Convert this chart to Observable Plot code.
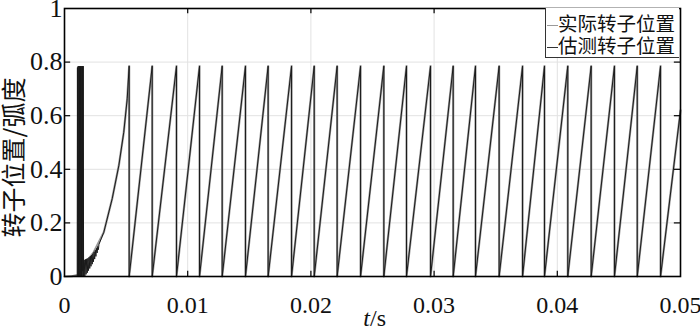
<!DOCTYPE html>
<html>
<head>
<meta charset="utf-8">
<script src="https://cdn.jsdelivr.net/npm/d3@7"></script>
<script src="https://cdn.jsdelivr.net/npm/@observablehq/plot@0.6"></script>
<style>
  body { margin: 0; background: #fff; }
  #wrap { position: relative; width: 700px; height: 329px; overflow: hidden; }
  #legend {
    position: absolute; left: 545px; top: 8px; width: 134px; height: 50px;
    border-left: 1px solid #333; border-bottom: 1px solid #333; box-sizing: border-box;
    background: #fff; white-space: nowrap; clip-path: inset(-12px 0 -12px -12px);
    font-family: "Noto Sans CJK SC", sans-serif; font-size: 19.5px; line-height: 22px;
    color: #111; padding-top: 4px;
  }
  #legend .sw { display: inline-block; width: 11px; height: 0; vertical-align: middle; margin-left: 1px; }
</style>
</head>
<body>
<div id="wrap">
  <div id="chart"></div>
  <div id="legend">
    <div><span class="sw" style="border-top:1px solid #9a9a9a"></span>实际转子位置</div>
    <div><span class="sw" style="border-top:1px solid #333"></span>估测转子位置</div>
  </div>
</div>
<script>
// ---- data ----
const seriesNames = ["实际转子位置", "估测转子位置"];
const xTicks = [0, 0.01, 0.02, 0.03, 0.04, 0.05];
const xTickLabels = ["0", "0.01", "0.02", "0.03", "0.04", "0.05"];
const yTicks = [0, 0.2, 0.4, 0.6, 0.8, 1];
const yTickLabels = ["0", "0.2", "0.4", "0.6", "0.8", "1"];
const peakValue = 0.785;
// times (s) at which the sawtooth resets from peak to 0
const resetTimes = [0.00525, 0.00712, 0.00909, 0.01096, 0.0128, 0.01469, 0.01653, 0.01843,
  0.02027, 0.02213, 0.02403, 0.02592, 0.02776, 0.02971, 0.03155, 0.03336, 0.03528, 0.03718,
  0.03896, 0.04085, 0.04275, 0.04464, 0.04649, 0.04838];
const endTime = 0.05, endValue = 0.62;
// start-up curve (shared by both series)
const startCurveT = [0.00319, 0.00387, 0.00441, 0.00481, 0.00509];
const startCurveV = [0.165, 0.29, 0.414, 0.538, 0.663];
// actual position near t = 0
const actualStartT = [0, 0.0006, 0.0011, 0.00157, 0.00238];
const actualStartV = [0, 0.001, 0.006, 0.041, 0.091];
// estimated position near t = 0 (oscillation band and wedge)
const estStartT = [0, 0.0010, 0.00103, 0.00105, 0.00108, 0.00111, 0.00114, 0.00117, 0.0012, 0.00123,
  0.00126, 0.00129, 0.00132, 0.00135, 0.00138, 0.00141, 0.00144, 0.00147, 0.0015, 0.00152,
  0.00155, 0.0016, 0.00165, 0.0017, 0.00175, 0.0018, 0.00185, 0.0019, 0.00195, 0.002,
  0.00205, 0.0021, 0.00215, 0.0022, 0.00225, 0.0023, 0.00235, 0.0024, 0.00245, 0.0025,
  0.00255, 0.0026, 0.00265, 0.0027, 0.00275, 0.0028];
const estStartV = [0, 0.002, 0.0, 0.78, 0.0, 0.785, 0.0, 0.785, 0.0, 0.785,
  0.0, 0.785, 0.0, 0.785, 0.0, 0.785, 0.0, 0.785, 0.02, 0.785,
  0.0, 0.062, 0.002, 0.064, 0.008, 0.066, 0.014, 0.068, 0.022, 0.072,
  0.03, 0.076, 0.038, 0.08, 0.046, 0.085, 0.055, 0.092, 0.065, 0.098,
  0.075, 0.105, 0.088, 0.112, 0.1, 0.12];

// ---- build series ----
function sawtooth() {
  const pts = [];
  startCurveT.forEach((t, i) => pts.push({t, v: startCurveV[i]}));
  resetTimes.forEach(t => { pts.push({t, v: peakValue}); pts.push({t, v: 0}); });
  pts.push({t: endTime, v: endValue});
  return pts;
}
const actual = actualStartT.map((t, i) => ({t, v: actualStartV[i]})).concat(sawtooth());
const estimated = estStartT.map((t, i) => ({t, v: estStartV[i]})).concat(sawtooth());

const xInner = xTicks.slice(1, -1), yInner = yTicks.slice(1, -1);

const chart = Plot.plot({
  width: 700, height: 329,
  marginLeft: 64, marginRight: 20, marginTop: 8, marginBottom: 53,
  style: {background: "#fff", color: "#111"},
  x: {domain: [0, 0.05]},
  y: {domain: [0, 1]},
  marks: [
    Plot.gridX(xInner, {stroke: "#e2e2e2", strokeOpacity: 1, strokeWidth: 1}),
    Plot.gridY(yInner, {stroke: "#e2e2e2", strokeOpacity: 1, strokeWidth: 1}),
    Plot.line(actual, {x: "t", y: "v", stroke: "#9a9a9a", strokeWidth: 2.2}),
    Plot.line(estimated, {x: "t", y: "v", stroke: "#1a1a1a", strokeWidth: 1}),
    // inward tick marks
    Plot.ruleX(xInner, {y1: 0, y2: 0.02, stroke: "#000", strokeWidth: 1.2}),
    Plot.ruleX(xInner, {y1: 0.98, y2: 1, stroke: "#000", strokeWidth: 1.2}),
    Plot.ruleY(yInner, {x1: 0, x2: 0.0005, stroke: "#000", strokeWidth: 1.2}),
    Plot.ruleY(yInner, {x1: 0.0495, x2: 0.05, stroke: "#000", strokeWidth: 1.2}),
    Plot.frame({stroke: "#000", strokeWidth: 1.6}),
    Plot.axisX(xTicks, {anchor: "bottom", tickSize: 0, tickPadding: 19,
      tickFormat: (d, i) => xTickLabels[i], label: null, fill: "#111"}),
    Plot.axisY(yTicks, {anchor: "left", tickSize: 0, tickPadding: 2,
      tickFormat: (d, i) => yTickLabels[i], label: null, fill: "#111"}),
    Plot.text(["转子位置/弧度"], {frameAnchor: "left", textAnchor: "middle", dx: -50, dy: 15, rotate: -90,
      fontSize: 25, fill: "#111"}),
    Plot.text(["t"], {x: [0.0248], frameAnchor: "bottom", dy: 49, textAnchor: "end",
      fontStyle: "italic", fontSize: 24, fill: "#111"}),
    Plot.text(["/s"], {x: [0.0248], frameAnchor: "bottom", dy: 49, textAnchor: "start",
      fontSize: 24, fill: "#111"})
  ]
});
document.getElementById("chart").appendChild(chart);
// set fonts inline (inline style wins over Plot's stylesheet)
d3.select(chart).selectAll("text").each(function() {
  const t = this.textContent;
  const g = this.closest("g[aria-label]");
  const lab = g ? g.getAttribute("aria-label") : "";
  if (/[\u4e00-\u9fff]/.test(t)) {
    this.style.fontFamily = "'Noto Sans CJK SC', sans-serif";
    this.style.fontSize = "25px";
  } else {
    this.style.fontFamily = "'Liberation Serif', serif";
    this.style.fontSize = /y-axis/.test(lab) ? "26px" : "24px";
    if (t === "t") this.style.fontStyle = "italic";
  }
});
</script>
</body>
</html>
